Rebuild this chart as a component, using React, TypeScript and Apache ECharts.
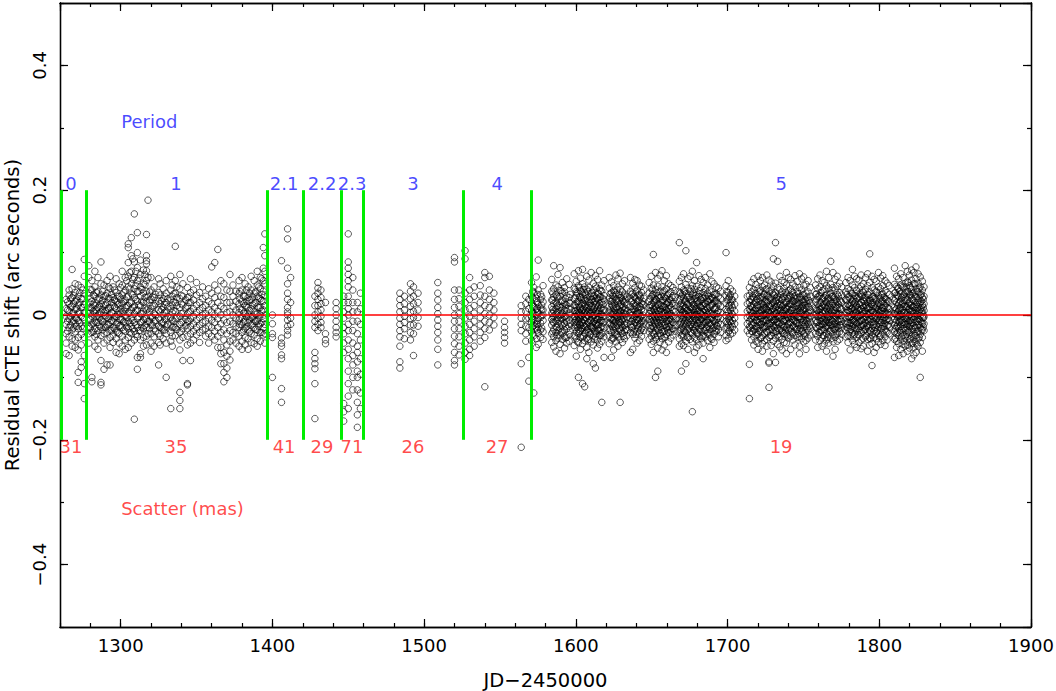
import React, { useEffect, useRef } from 'react';
import * as echarts from 'echarts';

const X_MIN = 1260;
const X_MAX = 1900;
const Y_MIN = -0.5;
const Y_MAX = 0.5;

const periodBounds = [1260.5, 1277.6, 1396.3, 1420, 1445.7, 1459.6, 1525.5, 1570.3];
const periodNames = ['0', '1', '2.1', '2.2', '2.3', '3', '4', '5'];
const periodLabelX = [1267.3, 1336.5, 1407.7, 1432.7, 1452.5, 1492.7, 1548.1, 1735.3];
const scatterMas = ['31', '35', '41', '29', '71', '26', '27', '19'];

// rows: [JD-2450000, residuals in mas ...]
const period0 = [
  [1264, 25, 10, -2, -15, -30, -45, -62],
  [1265, 8, -10, 21, -26],
  [1266, 32, 18, 6, -6, -20, -35, -65, 40],
  [1267, 13, -3, 26, -16],
  [1268, 73, 42, 28, 14, 2, -10, -24, -38, -50],
  [1269, 3, 18, -9, 31, -21],
  [1270, 36, 22, 9, -4, -14, -27, -40, -52, 50],
  [1271, 10, -6, 24, -18],
  [1272, 48, 30, 16, 3, -9, -22, -36, -56, -92, -108],
  [1273, 5, 20, -13, 36],
  [1274, 44, 26, 12, -2, -18, -31, -48, -75, -84],
  [1275, 12, -4, 26, -22, 40],
  [1276, 89, 62, 34, 17, 4, -7, -19, -36, -134, -65, -110],
];

const period1 = [
  [1279, 79, 60, 35, 20, 8, -5, -18, -30, -45],
  [1281, 55, 40, 22, 10, -2, -15, -28, -107, -100],
  [1283, 70, 45, 30, 15, 3, -10, -22, -35, -50],
  [1285, 60, 38, 25, 12, 0, -12, -25, -40, -55],
  [1287, 85, 50, 32, 18, 5, -8, -20, -33, -73, -108, -112],
  [1289, 48, 30, 16, 4, -6, -18, -30, -45, -87],
  [1291, 55, 35, 20, 8, -4, -16, -28, -40, -80],
  [1293, 62, 42, 26, 12, 0, -12, -24, -36, -80, -52],
  [1295, 45, 28, 15, 2, -10, -20, -32, -44],
  [1297, 58, 36, 22, 10, -3, -15, -26, -38, -60],
  [1299, 50, 30, 18, 6, -6, -18, -30, -45, -62],
  [1301, 70, 48, 32, 18, 5, -8, -20, -34, -50],
  [1303, 60, 40, 24, 12, 0, -12, -26, -40, -55],
  [1305, 114, 108, 84, 62, 45, 30, 15, 3, -10, -22, -36, -52],
  [1307, 124, 95, 70, 50, 34, 20, 8, -5, -18, -30, -45],
  [1309, 162, 85, 60, 42, 28, 14, 2, -12, -26, -167, -40],
  [1311, 132, 100, 76, 55, 38, 22, 8, -6, -20, -35, -68, -87],
  [1313, 88, 65, 45, 30, 15, 2, -12, -25, -40, -62, -68],
  [1315, 72, 50, 35, 20, 6, -8, -22, -36, -50],
  [1317, 129, 95, 87, 82, 71, 55, 38, 22, 8, -6, -20, -34, -48],
  [1318, 184, 60, 30, 10, -10, -30],
  [1320, 60, 40, 25, 10, -3, -16, -30, -45, -58],
  [1322, 45, 28, 15, 2, -10, -22, -35, -50],
  [1325, 58, 36, 22, 8, -5, -18, -30, -44, -80],
  [1326, 50, 32, 18, 5, -8, -20, -34, -48],
  [1328, 42, 26, 12, 0, -12, -24, -38],
  [1330, 55, 35, 20, 6, -6, -18, -30, -45, -100],
  [1333, 62, 40, 24, 10, -4, -16, -28, -42, -150],
  [1334, 48, 30, 16, 4, -8, -20, -34, -50],
  [1336, 110, 55, 35, 20, 6, -6, -20, -33],
  [1339, 65, 42, 26, 12, -2, -15, -28, -40, -56, -124, -137, -150],
  [1341, 50, 30, 16, 3, -10, -22, -36, -73],
  [1344, 44, 28, 14, 2, -10, -22, -34, -48, -110, -112],
  [1346, 58, 36, 20, 6, -6, -18, -30, -45, -73],
  [1348, 40, 24, 10, -2, -14, -26, -40],
  [1350, 52, 32, 16, 4, -8, -20, -32],
  [1352, 36, 20, 8, -4, -16, -28, -44],
  [1354, 45, 26, 12, 0, -12, -24],
  [1356, 30, 15, 2, -10, -22, -34],
  [1358, 42, 22, 8, -5, -18, -30, -45],
  [1360, 77, 35, 18, 5, -8, -20, -34],
  [1362, 84, 48, 28, 12, 0, -12, -26, -40],
  [1364, 105, 40, 20, 6, -6, -20, -34, -52],
  [1366, 55, 30, 14, 0, -14, -28, -52, -62, -78],
  [1368, 50, 28, 10, -8, -24, -40, -60, -78, -92, -107],
  [1370, 40, 20, 4, -12, -30, -48, -66, -85, -100],
  [1372, 65, 38, 20, 5, -10, -25, -42, -58, -72],
  [1374, 48, 30, 14, 0, -14, -28, -40],
  [1376, 38, 22, 8, -5, -18, -30, -45],
  [1378, 55, 34, 18, 4, -8, -20, -34, -50],
  [1380, 60, 40, 22, 8, -4, -16, -28, -42, -55],
  [1382, 50, 30, 15, 2, -10, -22, -36, -48],
  [1384, 45, 28, 12, 0, -12, -24, -38, -55],
  [1386, 62, 40, 24, 10, -4, -16, -30, -44],
  [1388, 55, 35, 18, 5, -8, -20, -32, -46],
  [1390, 70, 48, 30, 14, 2, -10, -24, -38, -50],
  [1392, 60, 42, 26, 12, 0, -14, -28, -42],
  [1394, 108, 75, 55, 38, 22, 8, -6, -20, -32],
  [1395, 130, 95, 70, 50, 32, 15, 0, -15, -30, -45],
];

// second batch of nightly points in period 1
const period1b = [
  [1280, 12, -8, 27, -21, 3, 41],
  [1282, 6, -14, 32, -27, 17],
  [1284, -3, 19, 8, -31, 36, -12],
  [1286, 14, -5, 26, -18, 2],
  [1288, 9, -11, 23, -24, 38],
  [1290, -1, 16, 7, -20, 31],
  [1292, 11, -6, 27, -15, 45],
  [1294, 4, 20, -9, 33, -25],
  [1296, 13, -3, 24, -22, 40],
  [1298, 1, 17, -12, 30, -28],
  [1300, 10, -7, 25, -17, 3, 44],
  [1302, 6, 21, -11, 36, -24],
  [1304, 15, -4, 29, 55, -19],
  [1306, 3, 19, 42, -13, 68, -28],
  [1308, 12, 32, -9, 57, -22, 90],
  [1310, 7, 25, 47, -16, 70, -31],
  [1312, 16, -3, 38, 59, -25],
  [1314, 2, 22, -11, 41, -20],
  [1316, 11, 28, -6, 49, -17, 65],
  [1319, 5, -10, 24, -22, 37],
  [1321, 14, -4, 29, -16],
  [1323, 0, 18, -9, 33, -26],
  [1327, 9, -13, 23, -21],
  [1329, 4, 17, -7, 30, -24],
  [1331, 13, -2, 26, -15],
  [1335, 7, 21, -10, 34, -19],
  [1337, 15, -5, 28, -23, 45],
  [1340, 2, 18, -12, 31, -26],
  [1343, 11, -7, 24, -17],
  [1345, 5, 20, -10, 29],
  [1378.5, 10, -5, 26, -15, 38],
  [1381, 3, 18, -11, 30, -24],
  [1383, 13, -3, 22, -19, 40],
  [1385, 7, 24, -8, 35, -27],
  [1387, 16, -2, 29, -14],
  [1389, 1, 20, -10, 37, -23],
  [1391, 12, -6, 27, -18, 45],
  [1393, 6, 23, -12, 33, -28, 58],
];

const period21 = [
  [1400, 0, -14, -30, -36, -100],
  [1406, 87, -37, -45, -50, -64, -70, -118, -140],
  [1410, 138, 122, 75, 50, 35, 25, 12, 5, 0, -8, -18, -25, -32],
  [1412, 60, 20, -5, -15],
];

const period22 = [
  [1428, 30, 15, 0, -10, -20, -60, -70, -78, -86, -110, -166],
  [1430, 52, 43, 35, 25, 15, 5, -5, -15, -25],
  [1432, 40, 28, 18, 8, -2, -12, -20],
  [1435, 20, -30, -40, -46],
  [1442, 20, 10, 0, -10, -20, -28, -35],
];

const period23 = [
  [1447, 30, 20, 5, -5, -20, -30, -45, -60, -142, -155, -170],
  [1450, 130, 85, 75, 65, 55, 45, 30, 20, 10, 0, -15, -25, -40, -55, -70, -90, -110, -130, -150],
  [1453, 60, 40, 20, 5, -10, -25, -45, -65, -80, -100, -120],
  [1456, 20, 5, -10, -30, -50, -60, -75, -90, -100, -120, -140, -160, -180],
  [1458, 35, 10, -15, -40, -70, -95, -125, -150],
];

const period3 = [
  [1484, 35, 25, 15, 5, -5, -15, -25, -35, -50, -75, -85],
  [1487, 30, 18, 8, -2, -12, -22, -38],
  [1491, 50, 38, 26, 14, 4, -6, -16, -28, -40],
  [1493, 45, 30, 18, 6, -4, -16, -30, -65],
  [1496, 35, 20, 8, -4, -18],
  [1509, 52, 35, 24, 12, 2, -8, -18, -28, -40, -55, -80],
  [1520, 92, 85, 40, 25, 12, 0, -10, -22, -34, -46, -60, -73, -80],
  [1523, 40, 26, 14, 2, -10, -22, -35, -50, -64],
];

const period4 = [
  [1527, 103, 90, 35, 20, 8, -5, -18, -30, -45, -60, -71],
  [1530, 60, 40, 25, 10, -2, -15, -28, -40, -55, -65],
  [1533, 45, 30, 15, 3, -10, -22, -35, -50],
  [1537, 47, 32, 20, 8, -4, -16, -28, -42],
  [1540, 68, 60, 30, 15, 2, -10, -22, -36, -115],
  [1543, 62, 40, 25, 12, 0, -12, -24],
  [1546, 35, 20, 8, -4, -16],
  [1553, -10, -20, -28, -36, -45],
  [1564, 15, 5, -5, -15, -25, -78, -212],
  [1567, 30, 18, 6, -6, -18, -30, -42],
  [1569, 25, 10, -5, -20, -68, -106],
];

const period5 = [
  [1570.8, 52, 31, 19, 7, -3, -11, -26, -41],
  [1572.3, 44, 36, 14, 2, -8, -17, -33, -125],
  [1573.9, 61, 27, 22, 9, -1, -14, -21, -38, -52],
  [1575.2, 88, 40, 17, 4, -6, -19, -29, -47],
  [1576.8, 33, 25, 11, -4, -13, -24, -36],
  [1578.4, 47, 21, 8, 0, -9, -27, -39],
  [1584.1, 57, 38, 24, 13, 3, -7, -16, -30, -44],
  [1585.4, 79, 42, 29, 18, 6, -2, -12, -23, -35, -51],
  [1586.9, 48, 33, 21, 10, 1, -10, -19, -28, -41, -58],
  [1588.2, 65, 45, 27, 15, 5, -4, -14, -25, -37],
  [1589.6, 76, 39, 30, 12, -1, -9, -21, -32, -47, -62],
  [1591.1, 52, 35, 23, 14, 2, -6, -17, -26, -39],
  [1592.5, 44, 37, 19, 8, -3, -13, -24, -34, -53],
  [1594.0, 58, 31, 16, 6, -5, -11, -22, -36, -45],
  [1595.6, 49, 28, 20, 9, 0, -8, -18, -31, -42],
  [1598.9, 66, 43, 26, 16, 7, -2, -12, -20, -33, -49],
  [1600.3, 54, 37, 31, 12, 3, -7, -15, -27, -38, -66],
  [1601.7, 71, 47, 22, 17, 5, -4, -10, -23, -30, -44, -100],
  [1603.0, 59, 39, 28, 11, 1, -6, -17, -25, -36, -55],
  [1604.4, 73, 50, 33, 19, 8, -3, -13, -21, -34, -46, -110],
  [1605.8, 45, 36, 24, 14, 4, -9, -18, -29, -41, -115],
  [1607.2, 62, 41, 27, 10, 0, -5, -16, -24, -37, -52, -70],
  [1608.6, 56, 44, 21, 15, 6, -2, -11, -28, -39, -60],
  [1610.1, 68, 34, 25, 13, 2, -8, -19, -26, -43],
  [1611.5, 51, 40, 30, 9, -1, -12, -20, -32, -48, -78],
  [1612.9, 63, 46, 23, 16, 5, -4, -14, -27, -35, -85],
  [1614.3, 57, 35, 26, 11, 3, -7, -16, -22, -40, -53],
  [1615.7, 71, 42, 29, 18, 7, -3, -12, -25, -33, -47],
  [1617.1, 48, 38, 20, 12, 1, -9, -18, -30, -42, -140],
  [1618.6, 55, 31, 24, 8, -2, -11, -21, -35, -68],
  [1622.0, 60, 43, 27, 14, 6, -3, -13, -22, -34, -46],
  [1623.5, 53, 36, 22, 17, 2, -6, -17, -28, -40, -68],
  [1624.9, 47, 39, 30, 11, 4, -8, -15, -24, -37, -56],
  [1626.4, 64, 33, 25, 13, 0, -10, -19, -31, -43],
  [1627.8, 58, 45, 21, 9, 3, -5, -14, -26, -35, -50],
  [1629.2, 67, 41, 28, 16, 5, -2, -12, -23, -39, -140],
  [1630.7, 50, 37, 24, 12, -1, -9, -20, -29, -44],
  [1632.1, 55, 32, 19, 7, 1, -11, -16, -27, -38],
  [1633.6, 43, 29, 17, 6, -4, -13, -24, -33],
  [1636.0, 60, 38, 26, 13, 4, -5, -15, -28, -60],
  [1637.5, 51, 35, 23, 10, 0, -8, -19, -31, -55],
  [1638.9, 57, 44, 28, 15, 6, -3, -12, -24, -37],
  [1640.4, 55, 40, 21, 11, 2, -7, -17, -26, -45],
  [1641.9, 48, 32, 25, 14, 3, -6, -14, -29, -41],
  [1643.3, 46, 36, 19, 9, -2, -10, -22, -34],
  [1644.8, 40, 27, 16, 5, -5, -13, -25],
  [1648.3, 52, 35, 22, 12, 2, -7, -16, -27, -39],
  [1649.7, 62, 43, 29, 17, 6, -3, -11, -22, -34, -47],
  [1651.1, 97, 48, 33, 20, 9, 0, -9, -19, -30, -42, -60],
  [1652.5, 68, 41, 25, 14, 4, -5, -14, -25, -36, -100],
  [1654.0, 58, 46, 31, 16, 7, -2, -12, -21, -33, -53, -90],
  [1655.4, 64, 38, 27, 11, 1, -8, -18, -29, -44],
  [1656.8, 71, 45, 23, 15, 5, -4, -13, -24, -38, -56],
  [1658.3, 55, 39, 30, 13, 3, -6, -17, -26, -35, -48],
  [1659.7, 63, 42, 26, 18, 8, -1, -10, -20, -31, -60],
  [1661.1, 50, 34, 21, 10, 0, -9, -19, -28, -43],
  [1662.6, 47, 37, 24, 12, 2, -7, -15, -27, -37],
  [1664.0, 44, 31, 19, 8, -3, -12, -22, -32],
  [1665.4, 39, 28, 15, 5, -6, -16, -26],
  [1668.2, 116, 54, 37, 24, 13, 3, -6, -15, -26, -38, -50],
  [1669.6, 60, 45, 30, 19, 8, -1, -11, -21, -33, -46, -90],
  [1671.0, 66, 40, 27, 15, 5, -4, -14, -24, -35, -49],
  [1672.5, 103, 49, 34, 22, 11, 1, -8, -18, -29, -42, -78],
  [1673.9, 58, 43, 28, 17, 6, -3, -12, -23, -36, -55],
  [1675.3, 62, 38, 25, 13, 3, -6, -16, -27, -39],
  [1676.8, 70, 47, 32, 20, 9, 0, -9, -19, -30, -43, -155],
  [1678.2, 55, 41, 26, 14, 4, -5, -15, -25, -37, -60],
  [1679.6, 84, 46, 33, 21, 10, 1, -8, -17, -28, -40, -52],
  [1681.1, 63, 39, 29, 16, 6, -3, -13, -22, -34, -48],
  [1682.5, 57, 44, 24, 12, 2, -7, -17, -26, -38],
  [1683.9, 52, 36, 27, 15, 5, -4, -11, -21, -33, -45, -70],
  [1685.4, 60, 42, 30, 18, 7, -2, -12, -24, -35],
  [1686.8, 48, 35, 22, 11, 1, -8, -18, -29, -41],
  [1688.3, 66, 40, 25, 13, 4, -6, -14, -23, -32, -52],
  [1689.7, 54, 37, 28, 16, 3, -5, -16, -27, -39],
  [1691.1, 50, 33, 21, 9, 0, -10, -20, -31, -44],
  [1692.6, 45, 34, 23, 12, 2, -7, -17, -26],
  [1694.0, 43, 30, 18, 7, -3, -12, -23, -35],
  [1695.4, 38, 26, 14, 4, -6, -15, -28],
  [1699.0, 100, 47, 31, 19, 9, -1, -10, -21, -33, -41],
  [1700.5, 55, 36, 25, 13, 3, -6, -16, -27, -38],
  [1701.9, 42, 32, 20, 8, -2, -11, -20, -31],
  [1703.3, 38, 24, 12, 1, -9, -19, -29],
  [1704.7, 30, 17, 6, -5, -14, -24],
  [1713.0, 30, 18, 6, -4, -14, -25],
  [1714.4, 44, 31, 20, 9, -1, -10, -19, -30, -79, -134],
  [1715.8, 52, 37, 25, 14, 4, -5, -15, -26, -40],
  [1717.3, 58, 41, 28, 17, 6, -3, -12, -22, -35, -48],
  [1718.7, 49, 35, 23, 11, 2, -8, -17, -28, -42],
  [1720.1, 62, 43, 30, 16, 7, -2, -11, -21, -31, -45, -55],
  [1721.6, 55, 39, 26, 13, 3, -6, -16, -27, -38],
  [1723.0, 60, 45, 29, 18, 8, -1, -10, -20, -33, -46, -58],
  [1724.4, 48, 34, 22, 12, 1, -7, -18, -29, -41],
  [1725.9, 64, 42, 31, 19, 9, 0, -9, -18, -27, -39, -50],
  [1727.3, 56, 38, 24, 14, 4, -5, -14, -24, -36, -75, -77, -116],
  [1728.7, 53, 40, 27, 15, 5, -4, -13, -23, -33, -49],
  [1730.2, 90, 46, 33, 21, 10, 1, -8, -17, -28, -42, -62],
  [1731.6, 116, 51, 36, 23, 12, 2, -7, -15, -26, -37, -76],
  [1733.0, 86, 44, 30, 18, 7, -2, -11, -21, -32, -47],
  [1734.5, 62, 41, 28, 16, 6, -4, -13, -24, -35, -51],
  [1735.9, 55, 37, 25, 13, 3, -6, -16, -25, -39, -56],
  [1737.3, 52, 43, 29, 17, 8, -1, -10, -19, -30, -44],
  [1738.8, 68, 48, 32, 20, 9, 0, -9, -20, -31, -45, -62],
  [1740.2, 60, 39, 26, 14, 4, -5, -14, -25, -37],
  [1741.6, 57, 42, 30, 18, 7, -3, -12, -22, -34, -55],
  [1743.1, 50, 36, 23, 12, 2, -7, -17, -28, -40],
  [1744.5, 63, 45, 31, 19, 8, -1, -10, -21, -33, -48],
  [1745.9, 54, 38, 27, 15, 5, -4, -13, -23, -36],
  [1747.4, 66, 44, 29, 17, 6, -3, -12, -24, -35, -50, -62],
  [1748.8, 58, 40, 25, 13, 3, -6, -15, -26, -38],
  [1750.2, 61, 47, 33, 20, 9, 0, -9, -19, -30, -43],
  [1751.7, 49, 35, 22, 11, 1, -8, -18, -29, -41, -55],
  [1753.1, 55, 37, 24, 13, 4, -5, -14, -25, -37],
  [1754.5, 44, 30, 19, 8, -2, -11, -21, -32],
  [1758.0, 48, 33, 21, 10, 0, -9, -19, -30, -40],
  [1759.4, 58, 42, 29, 17, 7, -2, -11, -22, -34, -52],
  [1760.9, 64, 45, 31, 19, 9, 0, -9, -18, -28, -41],
  [1762.3, 55, 39, 26, 14, 4, -5, -14, -25, -37, -50],
  [1763.7, 52, 41, 28, 16, 6, -3, -13, -23, -33, -46],
  [1765.2, 70, 47, 32, 20, 10, 1, -8, -17, -29, -40, -58],
  [1766.6, 60, 43, 27, 15, 5, -4, -12, -21, -32, -45],
  [1768.0, 86, 49, 35, 22, 11, 2, -7, -16, -26, -38],
  [1769.5, 68, 44, 30, 18, 8, -1, -10, -20, -31, -43, -66],
  [1770.9, 57, 40, 25, 13, 3, -6, -15, -24, -36, -55],
  [1772.3, 62, 46, 33, 21, 10, 0, -9, -19, -30, -42],
  [1773.8, 51, 36, 24, 12, 2, -7, -16, -27, -39],
  [1775.2, 45, 32, 20, 9, -1, -10, -20, -31],
  [1778.0, 52, 37, 25, 14, 4, -5, -14, -24, -35],
  [1779.4, 60, 42, 29, 17, 7, -2, -12, -21, -33, -44],
  [1780.8, 55, 40, 26, 15, 5, -4, -13, -23, -34, -56],
  [1782.3, 73, 48, 34, 22, 11, 1, -8, -18, -29, -41],
  [1783.7, 62, 44, 31, 19, 8, -1, -10, -20, -31, -47],
  [1785.1, 58, 39, 27, 15, 5, -4, -14, -24, -36, -52],
  [1786.6, 56, 43, 30, 18, 8, -2, -11, -22, -32, -44],
  [1788.0, 64, 46, 32, 20, 10, 0, -9, -18, -28, -40, -54],
  [1789.4, 50, 36, 23, 12, 2, -7, -16, -26, -38, -50],
  [1790.9, 60, 41, 28, 16, 6, -3, -12, -23, -35],
  [1792.3, 66, 47, 33, 21, 11, 1, -8, -17, -27, -39, -58],
  [1793.7, 98, 52, 37, 24, 13, 3, -6, -15, -25, -37, -48],
  [1795.2, 62, 44, 29, 17, 7, -2, -11, -21, -32, -46, -81],
  [1796.6, 57, 40, 26, 14, 4, -5, -15, -25, -36, -60],
  [1798.0, 54, 38, 25, 13, 3, -6, -16, -27, -38, -52],
  [1799.5, 68, 45, 31, 19, 9, 0, -9, -19, -30, -43],
  [1800.9, 59, 42, 28, 16, 6, -3, -12, -22, -34, -47],
  [1802.3, 63, 47, 34, 22, 11, 1, -8, -18, -29, -41],
  [1803.8, 55, 39, 27, 15, 5, -4, -13, -23, -35, -49],
  [1805.2, 51, 36, 24, 12, 2, -7, -17, -28, -40],
  [1806.6, 47, 33, 21, 10, 0, -9, -19, -30],
  [1810.0, 75, 49, 35, 23, 12, 2, -7, -16, -27, -39, -68],
  [1811.4, 62, 46, 32, 20, 10, 0, -9, -19, -30, -42, -52],
  [1812.8, 58, 43, 30, 18, 7, -2, -11, -21, -33, -46, -65],
  [1814.2, 66, 48, 34, 22, 11, 1, -8, -18, -28, -40, -55],
  [1815.7, 60, 44, 30, 18, 8, -2, -12, -22, -33, -47, -62],
  [1817.1, 79, 51, 36, 24, 13, 3, -6, -15, -25, -37, -50],
  [1818.5, 70, 53, 38, 25, 14, 4, -5, -14, -24, -35, -48, -58],
  [1819.9, 64, 47, 33, 21, 10, 0, -9, -18, -28, -40, -53],
  [1821.3, 72, 56, 41, 28, 16, 6, -3, -12, -22, -34, -46, -70],
  [1822.8, 68, 50, 36, 23, 12, 2, -7, -17, -27, -39, -52, -64],
  [1824.2, 77, 58, 42, 29, 17, 7, -2, -11, -21, -33, -45, -60],
  [1825.6, 66, 51, 37, 24, 13, 3, -6, -15, -26, -38, -50],
  [1827.0, 61, 45, 32, 20, 9, -1, -10, -20, -31, -44, -100],
  [1828.4, 54, 40, 28, 16, 5, -4, -13, -24, -36, -58],
  [1829.5, 45, 30, 18, 7, -3, -14, -25],
];

// second batch of nightly points in period 5
const period5b = [
  [1571.6, 14, -6, 27, -19, 3, -31, 38],
  [1574.6, -9, 11, 33, -24, 5, -15, 20],
  [1577.5, 16, -1, -21, 29, 8],
  [1584.8, 2, 24, -11, 35, -27, 9, -4],
  [1587.5, -7, 13, 30, -20, 4, -33, 18],
  [1590.3, 7, -14, 22, -28, 39, 1, -5],
  [1593.2, 11, -2, 26, -18, -37, 17],
  [1596.2, 3, -13, 19, -25, 33],
  [1599.6, -3, 15, 28, -16, 6, -35, 41, -9],
  [1601.0, 8, -20, 35, -12, 21, 0, -43],
  [1602.4, 13, -6, 29, -27, 4, 44, -15],
  [1603.7, -1, 18, 37, -22, 6, -11, 25],
  [1605.1, 10, -17, 27, -34, 2, 41, -7],
  [1606.5, 16, -4, 33, -19, -29, 7, 22],
  [1607.9, 4, -12, 24, -23, 38, 12, -40],
  [1609.4, -9, 19, 2, -31, 30, 9, -18],
  [1610.8, 14, -5, 36, -21, 5, -14, 25],
  [1612.2, 0, 21, -10, 31, -26, 12, -39],
  [1613.6, 18, -8, 27, -16, 3, -30, 43],
  [1615.0, 6, -15, 23, -3, 34, -24, 15],
  [1616.4, 11, -9, 29, -20, 1, 39, -33],
  [1617.9, -2, 17, -13, 26, 8, -28],
  [1622.7, 9, -14, 22, -25, 3, 34, -6],
  [1624.2, 15, -8, 31, -19, 1, -37, 24],
  [1625.6, -4, 19, 7, -29, 36, -12],
  [1627.1, 12, -3, 26, -17, 4, -32, 40],
  [1628.5, 1, 23, -10, 33, -21, 14],
  [1629.9, 17, -7, 28, -15, 6, -26],
  [1631.4, -5, 13, 22, -34, 3, 30],
  [1632.8, 10, -16, 25, 2, -23],
  [1636.7, 5, -10, 21, -20, 33, -1],
  [1638.2, 18, -5, 30, -16, 9, -27],
  [1639.6, 1, 14, -12, 26, -31, 37],
  [1641.1, 8, -9, 23, -21, 3, 32],
  [1642.6, 13, -2, 29, -14, -25],
  [1644.1, 0, 17, -9, 22, -19],
  [1649.0, 7, -11, 26, -22, 15],
  [1650.4, 14, -5, 32, -17, 2, -28, 40],
  [1651.8, -2, 21, 8, -31, 27, -12],
  [1653.2, 11, -8, 35, -19, 1, 24, -39],
  [1654.7, 5, 17, -14, 28, -25, -3],
  [1656.1, 16, -7, 30, -20, 9, -33],
  [1657.5, 0, 24, -11, 37, -27, 13],
  [1659.0, 12, -4, 27, -16, 4, -36],
  [1660.4, 6, 20, -13, 32, -24, 1],
  [1661.8, 15, -6, 25, -19, 3],
  [1663.3, -1, 18, -10, 28, -22],
  [1668.9, 9, -13, 26, -24, 1, 35, 16],
  [1670.3, 14, -6, 33, -18, 4, -31],
  [1671.7, 2, 22, -11, 38, -26, 11],
  [1673.2, 17, -4, 29, -15, 7, -35],
  [1674.6, 5, 19, -9, 31, -21, -1],
  [1676.0, 12, -15, 24, -28, 3, 42],
  [1677.5, -3, 16, 35, -12, 8, -24],
  [1678.9, 10, -7, 27, -19, 0, 31],
  [1680.3, 18, -2, 23, -30, 6, -13],
  [1681.8, 4, 21, -10, 34, -23, 13],
  [1683.2, 15, -6, 28, -17, 1, -34],
  [1684.6, -1, 19, 9, -25, 32, -13],
  [1686.1, 13, -8, 26, -20, 4],
  [1687.5, 6, 22, -12, 30, -29],
  [1689.0, 16, -4, 25, -16, 2, -37],
  [1690.4, 1, 18, -9, 27, -21],
  [1691.8, 11, -13, 22, 33, -25],
  [1693.3, 5, -6, 19, -18],
  [1699.8, 6, -13, 24, -20, 37],
  [1701.2, 15, -3, 29, -9, -25],
  [1702.6, 2, 16, -14, 25],
  [1715.1, 6, -7, 25, -21, 14],
  [1716.5, 12, -2, 30, -16, 3, -27],
  [1718.0, -4, 20, 8, -23, 34],
  [1719.4, 15, -9, 26, -18, 1, -32],
  [1720.9, 3, 22, -12, 37, -25],
  [1722.3, 18, -5, 28, -15, 6, -36],
  [1723.7, 0, 16, -10, 33, -22, 10],
  [1725.2, 11, -7, 24, -19, 4, 41],
  [1726.6, 7, 21, -13, 30, -28],
  [1728.0, 14, -3, 27, -17, 2, -33],
  [1729.5, -2, 19, 9, -24, 35, -11],
  [1730.9, 16, -8, 31, -20, 5],
  [1732.3, 4, 23, -12, 28, -26, 14],
  [1733.8, 12, -5, 25, -15, 0, -35],
  [1735.2, -1, 17, 8, -22, 33],
  [1736.6, 15, -10, 29, -18, 3, -29],
  [1738.1, 6, 20, -7, 36, -24, 12],
  [1739.5, 13, -4, 27, -16, 1, -33],
  [1740.9, 2, 18, -11, 31, -21],
  [1742.4, 17, -6, 24, -27, 8, 38],
  [1743.8, 5, 22, -9, 29, -19, -2],
  [1745.2, 14, -13, 26, -23, 3],
  [1746.7, -3, 19, 10, -17, 34, -30],
  [1748.1, 11, -7, 28, -21, 4],
  [1749.5, 7, 21, -12, 32, -26, 15],
  [1751.0, 16, -3, 25, -15, 1, -34],
  [1752.4, 0, 18, -10, 29, -22],
  [1753.8, 12, -6, 23, -18, 6],
  [1758.7, 8, -12, 25, -21, 2, 34],
  [1760.2, 14, -4, 30, -17, 5, -28],
  [1761.6, -1, 20, 11, -24, 36, -10],
  [1763.0, 16, -8, 27, -15, 3, -33],
  [1764.5, 5, 22, -11, 31, -20, 13],
  [1765.9, 13, -5, 26, -18, 0, -36],
  [1767.3, -2, 18, 9, -25, 33, -12],
  [1768.8, 15, -9, 29, -16, 4, 40],
  [1770.2, 7, 21, -13, 28, -23],
  [1771.6, 12, -3, 24, -19, 2, -31],
  [1773.1, 1, 17, -10, 30, -21],
  [1774.5, 10, -6, 22, -16],
  [1778.7, 9, -11, 24, -20, 3, 33],
  [1780.1, 14, -4, 29, -17, 6, -27],
  [1781.5, -2, 19, 10, -23, 35, -12],
  [1783.0, 16, -8, 26, -15, 2, -34],
  [1784.4, 4, 21, -12, 31, -22, 13],
  [1785.8, 12, -5, 27, -18, 1, -31],
  [1787.3, -1, 17, 8, -25, 34, -10],
  [1788.7, 15, -9, 30, -16, 5, 39],
  [1790.1, 6, 22, -13, 28, -23],
  [1791.6, 13, -3, 25, -19, 2, -33],
  [1793.0, 1, 18, -10, 32, -21, 11],
  [1794.4, 17, -7, 23, -26, 4, -38],
  [1795.9, 5, 20, -11, 29, -17],
  [1797.3, 11, -4, 27, -20, 0, -30],
  [1798.7, -3, 16, 9, -24, 36],
  [1800.2, 14, -8, 26, -15, 3, -35],
  [1801.6, 7, 21, -12, 33, -22, 12],
  [1803.1, 12, -5, 28, -18, 1],
  [1804.5, 0, 19, -9, 25, -26],
  [1805.9, 10, -6, 22, -16, 4],
  [1810.7, 8, -12, 27, -22, 2, 36, -37],
  [1812.1, 15, -4, 31, -17, 5, -28, 43],
  [1813.5, -1, 21, 11, -25, 38, -11],
  [1814.9, 17, -8, 28, -15, 3, -35, 46],
  [1816.4, 4, 23, -13, 33, -21, 14, -42],
  [1817.8, 13, -6, 29, -19, 0, -31, 45],
  [1819.2, -2, 18, 9, -26, 37, -11, 52],
  [1820.6, 16, -9, 32, -16, 5, -38, 44],
  [1822.0, 6, 24, -13, 35, -23, 13, -45],
  [1823.5, 14, -3, 30, -20, 2, -33, 50],
  [1824.9, 1, 20, -10, 38, -27, 11, -48],
  [1826.3, 17, -7, 27, -16, 6, -36, 43],
  [1827.7, 5, 22, -12, 33, -24, 12],
  [1829.0, 12, -5, 25, -19, 0],
];

const allRows = [period0, period1, period1b, period21, period22, period23, period3, period4, period5, period5b];

const FONT = 'DejaVu Sans';
const BLUE = '#1a1aff';
const RED = '#ff1a1a';

function toPoints(rows: number[][]): number[][] {
  const pts: number[][] = [];
  rows.forEach((row) => {
    const x = row[0];
    for (let i = 1; i < row.length; i++) pts.push([x, row[i] / 1000]);
  });
  return pts;
}

function fmtY(v: number): string {
  if (Math.abs(v) < 1e-9) return '0';
  return (v < 0 ? '\u2212' : '') + Math.abs(v).toFixed(1);
}

export default function App() {
  const ref = useRef<HTMLDivElement>(null);
  useEffect(() => {
    document.body.style.margin = '0';
    if (!ref.current) return;
    const chart = echarts.init(ref.current, undefined, { renderer: 'svg' });
    const points = allRows.flatMap((r) => toPoints(r));

    const axisLine = { show: true, onZero: false, lineStyle: { color: '#000', width: 1.3 } };
    const minorX = {
      type: 'value', min: X_MIN, max: X_MAX, interval: 20,
      axisLine, axisTick: { show: true, inside: true, length: 4, lineStyle: { color: '#000', width: 1.2 } },
      axisLabel: { show: false }, splitLine: { show: false },
    };
    const majorX = {
      type: 'value', min: X_MIN, max: X_MAX, splitNumber: 6,
      axisLine, axisTick: { show: true, inside: true, length: 8, lineStyle: { color: '#000', width: 1.2 } },
      splitLine: { show: false },
    };
    const minorY = {
      type: 'value', min: Y_MIN, max: Y_MAX, interval: 0.1,
      axisLine, axisTick: { show: true, inside: true, length: 4, lineStyle: { color: '#000', width: 1.2 } },
      axisLabel: { show: false }, splitLine: { show: false },
    };
    const majorY = {
      type: 'value', min: Y_MIN, max: Y_MAX, splitNumber: 5,
      axisLine, axisTick: { show: true, inside: true, length: 8, lineStyle: { color: '#000', width: 1.2 } },
      splitLine: { show: false },
    };

    const option: any = {
      animation: false,
      backgroundColor: '#fff',
      grid: { left: 60, right: 25, top: 3, bottom: 64, containLabel: false, outerBoundsMode: 'none' },
      xAxis: [
        { ...minorX, position: 'bottom' },
        {
          ...majorX, position: 'bottom',
          axisLabel: {
            show: true, showMinLabel: false, showMaxLabel: true, color: '#000', fontSize: 18,
            fontFamily: FONT, margin: 9, formatter: (v: number) => String(Math.round(v)),
          },
          name: 'JD\u22122450000', nameLocation: 'middle', nameGap: 43,
          nameTextStyle: { color: '#000', fontSize: 19.5, fontFamily: FONT },
        },
        { ...minorX, position: 'top' },
        { ...majorX, position: 'top', axisLabel: { show: false } },
      ],
      yAxis: [
        { ...minorY, position: 'left' },
        {
          ...majorY, position: 'left',
          axisLabel: {
            show: true, showMinLabel: false, showMaxLabel: false, rotate: 90, color: '#000',
            fontSize: 18, fontFamily: FONT, margin: 12, formatter: (v: number) => fmtY(v),
          },
          name: 'Residual CTE shift (arc seconds)', nameLocation: 'middle', nameGap: 38,
          nameTextStyle: { color: '#000', fontSize: 19.5, fontFamily: FONT },
        },
        { ...minorY, position: 'right' },
        { ...majorY, position: 'right', axisLabel: { show: false } },
      ],
      series: [
        {
          type: 'scatter', xAxisIndex: 0, yAxisIndex: 0,
          data: points, symbol: 'circle', symbolSize: 6.5,
          progressive: 0, large: false, silent: true,
          itemStyle: { color: 'rgba(0,0,0,0)', borderColor: '#000', borderWidth: 0.8 },
          markLine: {
            silent: true, symbol: ['none', 'none'], label: { show: false },
            lineStyle: { color: '#ff0000', width: 1.6, type: 'solid' },
            data: [{ yAxis: 0 }],
          },
          z: 2,
        },
        {
          type: 'scatter', xAxisIndex: 0, yAxisIndex: 0, data: [], z: 4,
          markLine: {
            silent: true, symbol: ['none', 'none'], label: { show: false },
            lineStyle: { color: '#00ee00', width: 3, type: 'solid' },
            data: periodBounds.map((b) => [{ coord: [b, 0.2] }, { coord: [b, -0.2] }]),
          },
        },
        {
          type: 'scatter', xAxisIndex: 0, yAxisIndex: 0, z: 5, silent: true,
          symbol: 'circle', symbolSize: 1, itemStyle: { color: 'rgba(0,0,0,0)' },
          label: { show: true, position: 'inside', formatter: '{b}', color: BLUE, fontSize: 18, fontFamily: FONT },
          data: periodNames.map((n, i) => ({ name: n, value: [periodLabelX[i], 0.21] })),
        },
        {
          type: 'scatter', xAxisIndex: 0, yAxisIndex: 0, z: 5, silent: true,
          symbol: 'circle', symbolSize: 1, itemStyle: { color: 'rgba(0,0,0,0)' },
          label: { show: true, position: 'inside', formatter: '{b}', color: RED, fontSize: 18, fontFamily: FONT },
          data: scatterMas.map((n, i) => ({ name: n, value: [periodLabelX[i], -0.21] })),
        },
        {
          type: 'scatter', xAxisIndex: 0, yAxisIndex: 0, z: 5, silent: true,
          symbol: 'circle', symbolSize: 1, itemStyle: { color: 'rgba(0,0,0,0)' },
          label: { show: true, position: 'right', distance: 0, formatter: '{b}', fontSize: 18, fontFamily: FONT },
          data: [
            { name: 'Period', value: [1300, 0.31], label: { color: BLUE } },
            { name: 'Scatter (mas)', value: [1300, -0.31], label: { color: RED } },
          ],
        },
      ],
    };
    chart.setOption(option);
    return () => chart.dispose();
  }, []);
  return <div ref={ref} style={{ width: 1056, height: 691 }} />;
}
